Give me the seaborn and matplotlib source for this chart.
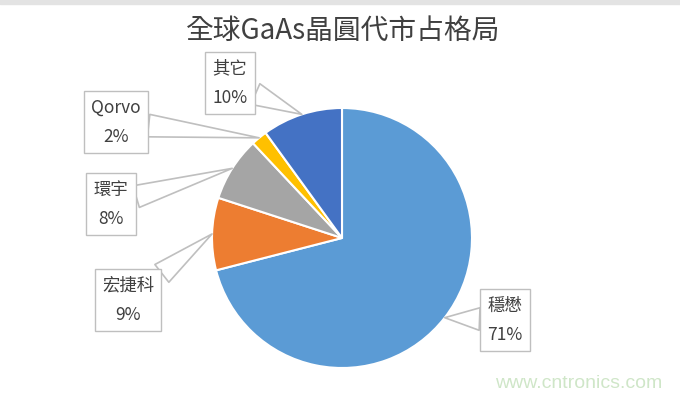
import numpy as np
import matplotlib
matplotlib.use("Agg")
import matplotlib.pyplot as plt
import seaborn as sns

# data
companies = ["穩懋", "宏捷科", "環宇", "Qorvo", "其它"]
shares = [71, 9, 8, 2, 10]
colors = ["#5B9BD5", "#ED7D31", "#A5A5A5", "#FFC000", "#4472C4"]
title = "全球GaAs晶圓代市占格局"

# label box centres in pixel coords (x right, y down)
label_pos = [(505, 320), (128, 300), (111, 204), (116, 122), (230, 83)]

sns.set_theme(style="white")
plt.rcParams["font.family"] = ["Noto Sans CJK TC", "DejaVu Sans"]

W, H = 680, 409
fig = plt.figure(figsize=(W / 100, H / 100), dpi=100)
ax = fig.add_axes([0, 0, 1, 1])

cx, cy, r = 342, H - 238, 130
wedges, _ = ax.pie(shares, colors=colors, startangle=90, counterclock=False,
                   center=(cx, cy), radius=r,
                   wedgeprops=dict(edgecolor="white", linewidth=1.5))
ax.set_xlim(0, W)
ax.set_ylim(0, H)
ax.set_aspect("equal")
ax.axis("off")

for w, name, val, (px, py) in zip(wedges, companies, shares, label_pos):
    mid = np.deg2rad((w.theta1 + w.theta2) / 2)
    tip = (cx + r * np.cos(mid), cy + r * np.sin(mid))
    ax.annotate(f"{name}\n{val}%", xy=tip, xytext=(px, H - py),
                ha="center", va="center", fontsize=12.5, color="#404040",
                linespacing=1.8,
                bbox=dict(boxstyle="square,pad=0.42", fc="white", ec="#bfbfbf", lw=1),
                arrowprops=dict(arrowstyle="wedge,tail_width=1.3,shrink_factor=0.5",
                                fc="white", ec="#bfbfbf", lw=1.2,
                                shrinkA=0, shrinkB=0))

fig.text(343 / W, 1 - 31 / H, title, ha="center", va="center",
         fontsize=20, color="#404040")
fig.text(579 / W, 1 - 384 / H, "www.cntronics.com", ha="center", va="center",
         fontsize=14, color="#cfe6c8", family=["Liberation Sans", "DejaVu Sans"])

fig.patches.append(plt.Rectangle((0, 1 - 4 / H), 1, 4 / H, transform=fig.transFigure,
                                 color="#e3e3e3", zorder=0))

fig.savefig("out.png", dpi=100)
